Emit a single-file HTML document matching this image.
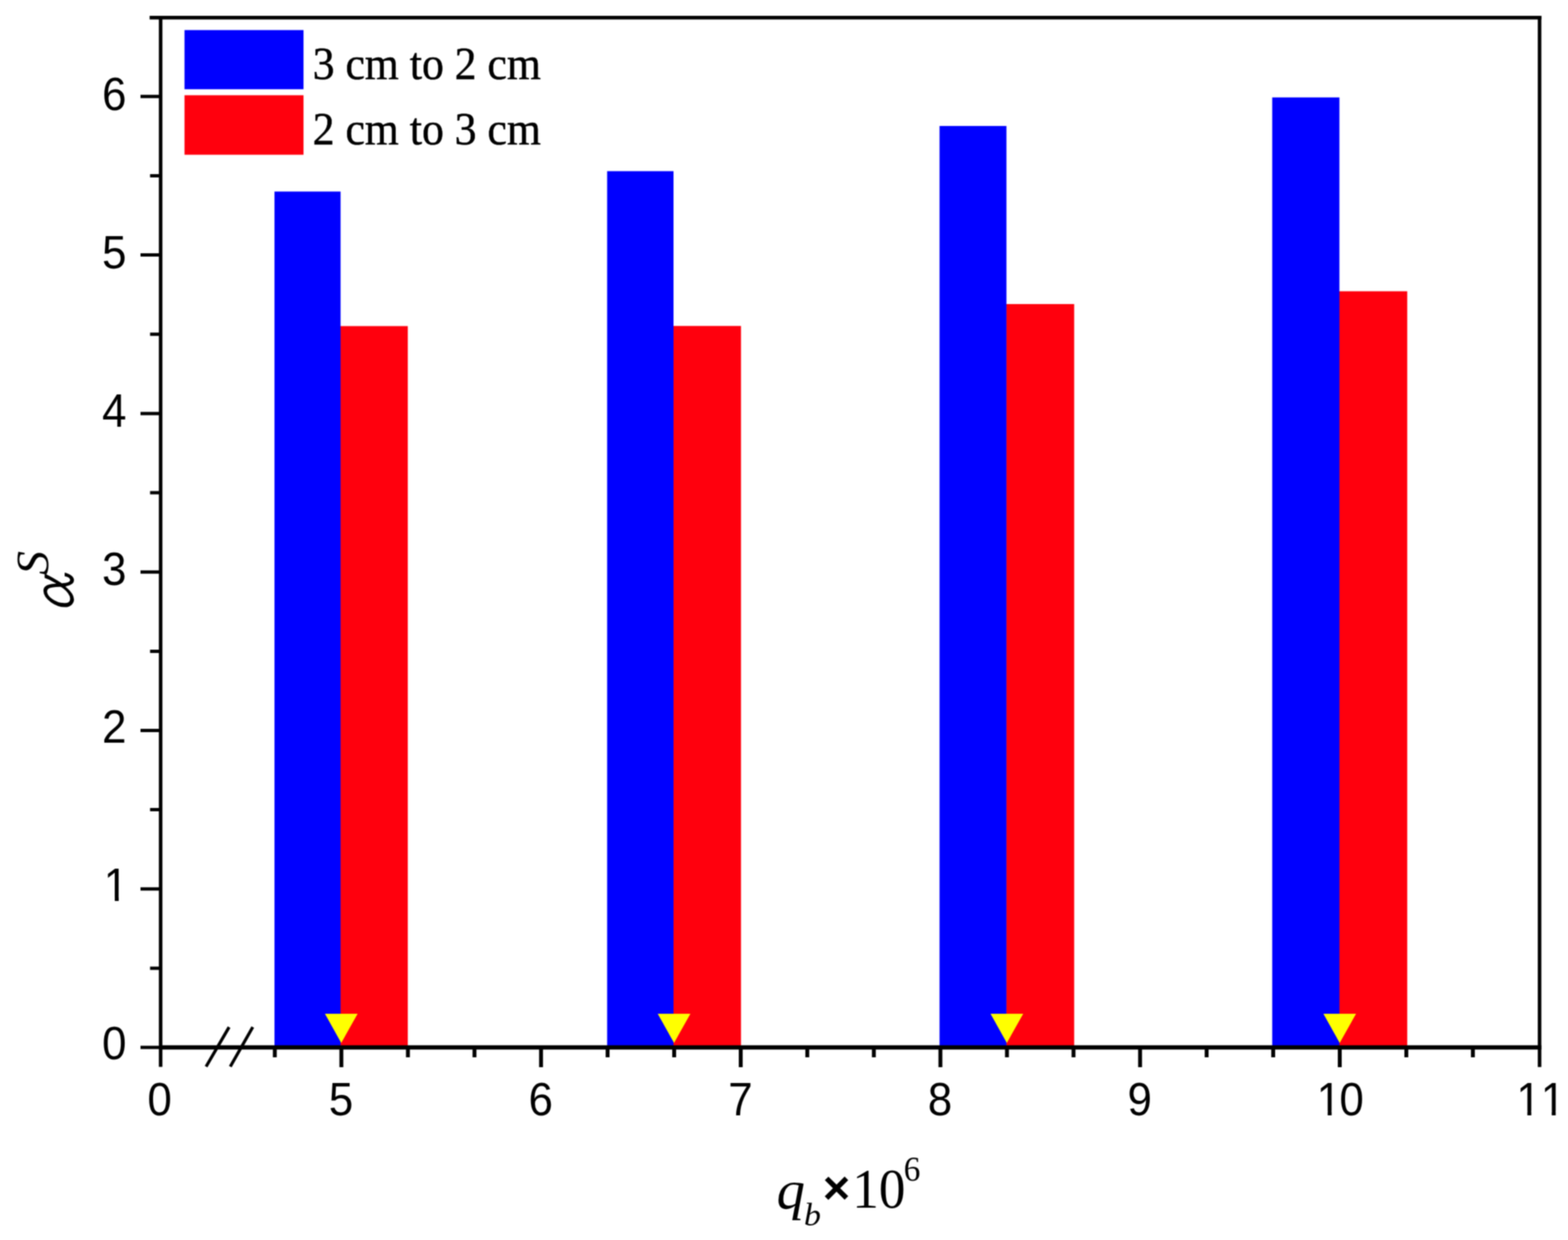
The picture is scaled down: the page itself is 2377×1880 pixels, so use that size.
<!DOCTYPE html>
<html lang="en"><head><meta charset="utf-8"><title>Bar chart</title>
<style>html,body{margin:0;padding:0;background:#fff}body{width:2377px;height:1880px;overflow:hidden}svg{display:block}.s{font-family:"Liberation Sans",sans-serif;font-kerning:none}.r{font-family:"Liberation Serif",serif}.i{font-family:"Liberation Serif",serif;font-style:italic}.g{font-family:"IPAGothic","Liberation Serif",serif;font-style:normal}</style>
</head><body>
<svg width="2377" height="1880" viewBox="0 0 2377 1880">
<defs><filter id="soft" x="-20" y="-20" width="2417" height="1920" filterUnits="userSpaceOnUse" color-interpolation-filters="sRGB"><feConvolveMatrix order="5" kernelMatrix="9 72 138 72 9 72 576 1104 576 72 138 1104 2116 1104 138 72 576 1104 576 72 9 72 138 72 9" divisor="10000" edgeMode="duplicate" preserveAlpha="true"/></filter></defs>
<rect width="2377" height="1880" fill="#fff"/>
<g filter="url(#soft)">
<rect x="-20" y="-20" width="2417" height="1920" fill="#fff"/>
<rect x="515.8" y="494.4" width="102.4" height="1093.6" fill="#ff000d"/>
<rect x="416.1" y="290.4" width="100.2" height="1297.6" fill="#0000ff"/>
<rect x="1020.5" y="494.2" width="102.8" height="1093.8" fill="#ff000d"/>
<rect x="920.4" y="259.5" width="100.6" height="1328.5" fill="#0000ff"/>
<rect x="1525.2" y="461.0" width="103.2" height="1127.0" fill="#ff000d"/>
<rect x="1424.3" y="191.0" width="101.4" height="1397.0" fill="#0000ff"/>
<rect x="2030.0" y="441.6" width="103.3" height="1146.4" fill="#ff000d"/>
<rect x="1928.6" y="147.7" width="101.9" height="1440.3" fill="#0000ff"/>
<rect x="279.7" y="45.6" width="180.4" height="89.7" fill="#0000ff"/>
<rect x="279.7" y="144.4" width="180.4" height="90.2" fill="#ff000d"/>
<polygon points="492.6,1537.1 542.1,1537.1 517.3,1581.2" fill="#ffff00"/>
<polygon points="997.1,1537.1 1046.6,1537.1 1021.8,1581.2" fill="#ffff00"/>
<polygon points="1501.6,1537.1 1551.1,1537.1 1526.3,1581.2" fill="#ffff00"/>
<polygon points="2006.2,1537.1 2055.7,1537.1 2030.9,1581.2" fill="#ffff00"/>
<g stroke="#000" fill="none" stroke-linecap="butt">
<path d="M226.8 26.8H2336.6" stroke-width="5.4"/>
<path d="M243.5 26.8V1617.5" stroke-width="5.4"/>
<path d="M243.5 1588.0H2336.6" stroke-width="6.5"/>
<path d="M213.0 1588.0H243.5" stroke-width="5.0"/>
<path d="M2333.9 24.1V1617.8" stroke-width="5.4"/>
<path d="M227.5 1467.9H243.5M213.0 1347.8H243.5M227.5 1227.6H243.5M213.0 1107.5H243.5M227.5 987.4H243.5M213.0 867.2H243.5M227.5 747.0H243.5M213.0 626.9H243.5M227.5 506.7H243.5M213.0 386.6H243.5M227.5 266.4H243.5M213.0 146.3H243.5" stroke-width="5.0"/>
<path d="M416.6 1588.0V1603.0M517.5 1588.0V1618.0M618.4 1588.0V1603.0M719.3 1588.0V1603.0M820.2 1588.0V1618.0M921.1 1588.0V1603.0M1022.0 1588.0V1603.0M1122.9 1588.0V1618.0M1223.8 1588.0V1603.0M1324.7 1588.0V1603.0M1425.6 1588.0V1618.0M1526.5 1588.0V1603.0M1627.4 1588.0V1603.0M1728.3 1588.0V1618.0M1829.2 1588.0V1603.0M1930.1 1588.0V1603.0M2031.0 1588.0V1618.0M2131.9 1588.0V1603.0M2232.8 1588.0V1603.0" stroke-width="5.9"/>
<path d="M312.4 1617.1L347.3 1557.2M349.1 1617.1L383.2 1557.2" stroke-width="4.7"/>
</g>
<g fill="#000">
<text class="s" font-size="69.6" transform="translate(154.83 1606.20) scale(0.955 1)">0</text>
<text class="s" font-size="69.6" dx="2.62" transform="translate(154.83 1366.30) scale(0.955 1)">1</text>
<text class="s" font-size="69.6" transform="translate(154.83 1126.40) scale(0.955 1)">2</text>
<text class="s" font-size="69.6" transform="translate(154.83 886.50) scale(0.955 1)">3</text>
<text class="s" font-size="69.6" transform="translate(154.83 646.60) scale(0.955 1)">4</text>
<text class="s" font-size="69.6" transform="translate(154.83 406.70) scale(0.955 1)">5</text>
<text class="s" font-size="69.6" transform="translate(154.83 166.80) scale(0.955 1)">6</text>
<text class="s" font-size="69.6" transform="translate(223.52 1691.00) scale(0.955 1)">0</text>
<text class="s" font-size="69.6" transform="translate(498.52 1691.00) scale(0.955 1)">5</text>
<text class="s" font-size="69.6" transform="translate(801.22 1691.00) scale(0.955 1)">6</text>
<text class="s" font-size="69.6" transform="translate(1103.92 1691.00) scale(0.955 1)">7</text>
<text class="s" font-size="69.6" transform="translate(1406.62 1691.00) scale(0.955 1)">8</text>
<text class="s" font-size="69.6" transform="translate(1709.32 1691.00) scale(0.955 1)">9</text>
<text class="s" font-size="69.6" dx="2.62 -2.62" transform="translate(1993.53 1691.00) scale(0.955 1)">10</text>
<text class="s" font-size="69.6" dx="2.62 0.00" transform="translate(2296.23 1691.00) scale(0.955 1)">11</text>
<text class="r" font-size="69.4" text-anchor="start" stroke="#000" stroke-width="0.7" transform="translate(474.00 120.40) scale(0.955 1)">3 cm to 2 cm</text>
<text class="r" font-size="69.4" text-anchor="start" stroke="#000" stroke-width="0.7" transform="translate(474.00 218.60) scale(0.955 1)">2 cm to 3 cm</text>
</g>
<g fill="#fff"><rect x="160.90" y="1359.90" width="13.10" height="8.40"/><rect x="179.97" y="1359.90" width="12.58" height="8.40"/><rect x="1999.60" y="1684.60" width="13.10" height="8.40"/><rect x="2018.67" y="1684.60" width="12.58" height="8.40"/><rect x="2302.30" y="1684.60" width="13.10" height="8.40"/><rect x="2321.37" y="1684.60" width="12.58" height="8.40"/><rect x="2339.26" y="1684.60" width="13.10" height="8.40"/><rect x="2358.34" y="1684.60" width="12.58" height="8.40"/></g>
<text class="r" fill="#000"><tspan class="i" x="1177.30" y="1831.50" font-size="82.0" textLength="43.05" lengthAdjust="spacingAndGlyphs">q</tspan><tspan class="i" x="1218.70" y="1858.20" font-size="49.5" textLength="25.74" lengthAdjust="spacingAndGlyphs">b</tspan><tspan class="s" x="1247.20" y="1825.10" font-size="71.3" textLength="41.64" lengthAdjust="spacingAndGlyphs" font-weight="bold">×</tspan><tspan x="1292.00" y="1831.20" font-size="85.0" textLength="80.58" lengthAdjust="spacingAndGlyphs">10</tspan><tspan x="1370.00" y="1790.10" font-size="52.0" textLength="25.22" lengthAdjust="spacingAndGlyphs">6</tspan></text>
<text class="i" fill="#000" transform="translate(115.57 938.45) rotate(-90)"><tspan class="g" x="0.00" y="0.00" font-size="93.4" textLength="88.45" lengthAdjust="spacingAndGlyphs" stroke="#fff" stroke-width="1.6">α</tspan><tspan x="66.75" y="-43.07" font-size="70.0" textLength="36.40" lengthAdjust="spacingAndGlyphs">S</tspan></text>
</g>
</svg>
</body></html>
